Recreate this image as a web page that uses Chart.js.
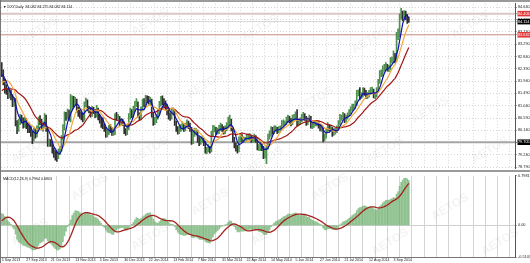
<!DOCTYPE html>
<html>
<head>
<meta charset="utf-8">
<script src="https://cdn.jsdelivr.net/npm/chart.js@4.4.0/dist/chart.umd.min.js"></script>
<style>
  html, body { margin: 0; padding: 0; background: #fff; }
  #wrap { position: relative; width: 530px; height: 263px; overflow: hidden; background: #fff; }
  #main { position: absolute; left: 0; top: 0; }
  #macd { position: absolute; left: 0; top: 172px; }
  .sep { position: absolute; background: #9a9a9a; }
</style>
</head>
<body>
<div id="wrap">
  <canvas id="main" width="530" height="172"></canvas>
  <canvas id="macd" width="530" height="91"></canvas>
  <div class="sep" style="left:0;top:0;width:530px;height:2px"></div>
  <div class="sep" style="left:0;top:170px;width:530px;height:2px"></div>
  <div class="sep" style="left:0;top:0;width:1px;height:263px;background:#777"></div>
</div>
<script>
// DXY daily, 5 Sep 2013 .. 16 Sep 2014 (one value per session)
const closes = [
  // Sep 2013
  82.25, 81.92, 81.62, 81.58, 81.40, 81.52, 81.38, 81.10, 81.22, 80.40, 80.20, 80.42, 80.60, 80.52, 80.32, 80.50, 80.32, 80.22,
  // Oct 2013
  80.20, 80.02, 79.82, 80.10, 80.00, 80.20, 80.50, 80.48, 80.22, 80.30, 80.62, 80.20, 79.62, 79.70, 79.68, 79.42, 79.30, 79.22, 79.18, 79.32, 79.42, 79.82, 80.22,
  // Nov 2013
  80.70, 80.62, 80.80, 80.60, 81.02, 81.30, 81.12, 81.22, 80.88, 80.80, 80.70, 80.68, 80.58, 81.10, 81.20, 80.92, 80.90, 80.72, 80.92, 80.82, 80.68,
  // Dec 2013
  80.90, 80.62, 80.50, 80.40, 80.30, 80.20, 80.00, 80.02, 80.20, 80.18, 80.02, 80.10, 80.62, 80.60, 80.62, 80.40, 80.50, 80.40, 80.10, 80.08, 80.22,
  // Jan 2014
  80.62, 80.82, 80.70, 80.90, 81.10, 81.12, 80.70, 80.60, 80.90, 81.20, 81.10, 81.30, 81.28, 81.20, 81.22, 80.70, 80.40, 80.50, 80.62, 80.80, 81.10, 81.30,
  // Feb 2014
  81.20, 81.10, 81.00, 80.80, 80.70, 80.60, 80.80, 80.82, 80.40, 80.20, 80.10, 80.20, 80.22, 80.30, 80.20, 80.30, 80.40, 80.30, 80.20, 79.70,
  // Mar 2014
  80.00, 80.10, 80.10, 79.80, 79.70, 79.80, 79.80, 79.70, 79.40, 79.40, 79.50, 79.40, 80.00, 80.20, 80.20, 80.10, 80.10, 80.20, 80.30, 80.20, 80.10,
  // Apr 2014
  80.20, 80.30, 80.50, 80.50, 80.20, 79.80, 79.60, 79.50, 79.40, 79.80, 79.90, 79.80, 79.80, 79.80, 79.90, 79.90, 79.90, 79.80, 79.80, 79.90, 79.80, 79.50,
  // May 2014
  79.50, 79.60, 79.50, 79.20, 79.40, 79.50, 79.90, 80.00, 80.20, 80.10, 80.20, 80.20, 80.10, 80.20, 80.20, 80.40, 80.40, 80.40, 80.50, 80.60, 80.50, 80.40,
  // Jun 2014
  80.60, 80.60, 80.70, 80.40, 80.40, 80.50, 80.60, 80.70, 80.60, 80.40, 80.50, 80.60, 80.30, 80.30, 80.40, 80.40, 80.40, 80.30, 80.20, 80.20, 79.80,
  // Jul 2014
  79.90, 80.10, 80.30, 80.20, 80.20, 80.00, 80.10, 80.10, 80.20, 80.40, 80.60, 80.60, 80.70, 80.50, 80.60, 80.70, 80.80, 80.90, 81.00, 81.00, 81.10, 81.50, 81.50,
  // Aug 2014
  81.40, 81.40, 81.60, 81.50, 81.40, 81.40, 81.50, 81.60, 81.60, 81.40, 81.40, 81.60, 81.90, 82.20, 82.20, 82.40, 82.40, 82.50, 82.40, 82.40, 82.70,
  // Sep 2014
  82.70, 82.90, 82.70, 83.60, 83.60, 84.30, 84.40, 84.30, 84.40, 84.30, 84.20, 84.11
];

const highs = [
  82.62, 82.35, 82.00, 81.80, 81.66, 81.70, 81.60, 81.45, 81.35, 81.30, 80.50, 80.55, 80.72, 80.70, 80.60, 80.62, 80.58, 80.40,
  80.40, 80.30, 80.10, 80.22, 80.20, 80.30, 80.62, 80.68, 80.55, 80.45, 80.75, 80.70, 80.25, 79.82, 79.80, 79.75, 79.50, 79.40, 79.35, 79.45, 79.55, 79.95, 80.35,
  80.82, 80.80, 80.92, 80.88, 81.45, 81.40, 81.38, 81.35, 81.28, 80.98, 80.88, 80.80, 80.75, 81.18, 81.32, 81.25, 81.02, 80.95, 81.02, 80.98, 80.90,
  81.05, 80.95, 80.70, 80.62, 80.60, 80.38, 80.25, 80.15, 80.32, 80.35, 80.25, 80.22, 80.75, 80.80, 80.72, 80.65, 80.58, 80.55, 80.45, 80.20, 80.35,
  80.75, 80.95, 80.90, 81.02, 81.20, 81.30, 81.18, 80.78, 81.00, 81.28, 81.30, 81.42, 81.40, 81.38, 81.35, 81.28, 80.80, 80.62, 80.72, 80.90, 81.20, 81.38,
  81.40, 81.30, 81.22, 81.08, 80.95, 80.78, 80.92, 80.95, 80.88, 80.48, 80.28, 80.30, 80.35, 80.45, 80.38, 80.40, 80.52, 80.48, 80.40, 80.25,
  80.10, 80.22, 80.20, 80.15, 79.90, 79.88, 79.92, 79.85, 79.75, 79.52, 79.62, 79.55, 80.10, 80.32, 80.30, 80.25, 80.22, 80.32, 80.40, 80.35, 80.28,
  80.30, 80.42, 80.62, 80.70, 80.55, 80.25, 79.88, 79.68, 79.60, 79.90, 80.02, 79.98, 79.90, 79.88, 80.00, 80.00, 80.02, 79.95, 79.90, 80.00, 79.95, 79.85,
  79.62, 79.72, 79.65, 79.55, 79.50, 79.60, 80.00, 80.12, 80.28, 80.25, 80.30, 80.30, 80.25, 80.28, 80.30, 80.50, 80.52, 80.48, 80.62, 80.70, 80.65, 80.58,
  80.70, 80.72, 80.82, 80.90, 80.52, 80.60, 80.72, 80.80, 80.75, 80.65, 80.60, 80.70, 80.65, 80.40, 80.48, 80.50, 80.48, 80.45, 80.35, 80.30, 80.25,
  80.00, 80.20, 80.42, 80.35, 80.32, 80.25, 80.20, 80.22, 80.30, 80.50, 80.72, 80.70, 80.80, 80.75, 80.70, 80.78, 80.90, 81.00, 81.10, 81.10, 81.22, 81.60, 81.62,
  81.70, 81.52, 81.70, 81.68, 81.60, 81.52, 81.60, 81.70, 81.72, 81.65, 81.52, 81.70, 82.00, 82.32, 82.35, 82.50, 82.55, 82.62, 82.55, 82.52, 82.80,
  82.82, 83.05, 82.95, 83.72, 83.85, 84.40, 84.60, 84.50, 84.52, 84.50, 84.38, 84.28
];

const lows = [
  82.10, 81.80, 81.50, 81.45, 81.30, 81.32, 81.25, 81.00, 81.02, 80.30, 80.02, 80.10, 80.35, 80.40, 80.22, 80.25, 80.20, 80.05,
  80.05, 79.92, 79.65, 79.75, 79.85, 79.90, 80.12, 80.35, 80.15, 80.10, 80.25, 80.10, 79.55, 79.55, 79.55, 79.30, 79.15, 79.05, 79.00, 79.10, 79.25, 79.38, 79.78,
  80.15, 80.50, 80.55, 80.50, 80.45, 80.90, 81.00, 81.05, 80.80, 80.65, 80.58, 80.52, 80.45, 80.50, 81.00, 80.85, 80.78, 80.62, 80.65, 80.75, 80.60,
  80.62, 80.52, 80.40, 80.25, 80.20, 80.10, 79.88, 79.90, 79.98, 80.05, 79.95, 79.95, 79.98, 80.50, 80.50, 80.32, 80.35, 80.32, 80.02, 79.95, 79.98,
  80.15, 80.55, 80.60, 80.62, 80.82, 81.00, 80.62, 80.50, 80.52, 80.85, 81.00, 81.05, 81.15, 81.10, 81.08, 80.62, 80.32, 80.35, 80.42, 80.55, 80.72, 81.02,
  81.08, 81.00, 80.90, 80.70, 80.55, 80.50, 80.55, 80.70, 80.32, 80.10, 80.00, 80.02, 80.10, 80.15, 80.10, 80.12, 80.25, 80.20, 80.10, 79.62,
  79.65, 79.92, 79.98, 79.70, 79.58, 79.62, 79.70, 79.58, 79.30, 79.28, 79.35, 79.30, 79.35, 79.92, 80.08, 79.98, 80.00, 80.02, 80.12, 80.10, 80.00,
  80.02, 80.12, 80.22, 80.35, 80.12, 79.72, 79.50, 79.38, 79.30, 79.35, 79.72, 79.70, 79.70, 79.72, 79.75, 79.80, 79.80, 79.70, 79.70, 79.72, 79.70, 79.42,
  79.40, 79.40, 79.40, 79.10, 79.12, 78.92, 79.45, 79.82, 79.92, 80.00, 80.02, 80.10, 80.02, 80.05, 80.10, 80.15, 80.30, 80.32, 80.35, 80.45, 80.40, 80.30,
  80.35, 80.50, 80.55, 80.30, 80.30, 80.35, 80.45, 80.55, 80.50, 80.32, 80.35, 80.45, 80.22, 80.20, 80.25, 80.30, 80.30, 80.22, 80.12, 80.10, 79.72,
  79.75, 79.85, 80.05, 80.12, 80.10, 79.92, 79.95, 80.00, 80.05, 80.15, 80.35, 80.50, 80.55, 80.42, 80.45, 80.55, 80.65, 80.75, 80.85, 80.90, 80.95, 81.05, 81.40,
  81.25, 81.30, 81.35, 81.42, 81.30, 81.30, 81.35, 81.45, 81.50, 81.32, 81.30, 81.35, 81.55, 81.85, 82.10, 82.12, 82.30, 82.35, 82.30, 82.28, 82.35,
  82.60, 82.62, 82.60, 82.65, 83.45, 83.55, 84.20, 84.15, 84.22, 84.18, 84.05, 84.08
];

// sessions before the window, estimated from where the averages start at the left edge
const priorCloses = [81.55, 81.45, 81.12, 81.10, 81.30, 81.65, 81.60, 81.25, 81.30, 81.32, 81.05,
  81.50, 81.60, 81.40, 81.40, 81.30, 81.62, 82.00, 82.10, 82.12, 82.25, 82.15];

const dateLabels = ['5 Sep 2013', '27 Sep 2013', '21 Oct 2013', '13 Nov 2013', '5 Dec 2013', '30 Dec 2013',
  '22 Jan 2014', '13 Feb 2014', '7 Mar 2014', '31 Mar 2014', '22 Apr 2014', '14 May 2014', '5 Jun 2014',
  '27 Jun 2014', '21 Jul 2014', '12 Aug 2014', '3 Sep 2014'];

const priceTicks = [84.64, 84.19, 83.74, 83.29, 82.84, 82.39, 81.94, 81.49, 81.04, 80.59, 80.14, 79.69, 79.24, 78.79];
const levelValues = [84.406, 83.632, 79.705];
const levelLabels = ['84.406', '83.632', '79.705'];
const bidValue = 84.114;
const macdTicks = [0.7981, 0, -0.5103];
const macdTickLabels = ['0.7981', '0.00', '-0.5103'];

// layout
const X_MIN = -0.5, X_MAX = 335.4, GRID_STEP = 8, LABEL_STEP = 16;
const FONT = '"Liberation Sans", Arial, sans-serif';

// indicator helpers (same definitions as the terminal uses)
function sma(src, n) {
    return src.map((_, i) => {
        const w = src.slice(Math.max(0, i - n + 1), i + 1);
        return w.reduce((a, b) => a + b, 0) / w.length;
    });
}
function ema(src, n) {
    const k = 2 / (n + 1), out = [];
    src.forEach((v, i) => out.push(i ? out[i - 1] + k * (v - out[i - 1]) : v));
    return out;
}

const P = priorCloses.length;
const allCloses = priorCloses.concat(closes);
const ma5 = sma(allCloses, 5).slice(P);
const ma10 = sma(allCloses, 10).slice(P);
const ma21 = sma(allCloses, 21).slice(P);
const e12 = ema(allCloses, 12), e26 = ema(allCloses, 26);
const macdAll = e12.map((v, i) => v - e26[i]);
const macdMain = macdAll.slice(P);
const macdSignal = sma(macdAll, 9).slice(P);

const gridIdx = [];
for (let v = 0; v <= X_MAX; v += GRID_STEP) gridIdx.push(v);

const toXY = arr => arr.map((y, x) => ({ x, y }));

const watermark = {
    id: 'watermark',
    beforeDatasetsDraw(chart, args, opts) {
        const c = chart.ctx;
        c.save();
        c.font = 'bold 12px ' + FONT;
        c.fillStyle = 'rgba(130,130,130,0.09)';
        c.textAlign = 'center';
        c.textBaseline = 'middle';
        (opts.spots || []).forEach(([x, y]) => {
            c.save();
            c.translate(x, y);
            c.rotate(-0.55);
            c.fillText('AETOS', 0, 0);
            c.restore();
        });
        c.restore();
    }
};

const caption = {
    id: 'caption',
    afterDraw(chart, args, opts) {
        const c = chart.ctx;
        c.save();
        c.font = opts.size + 'px ' + FONT;
        c.fillStyle = '#111';
        c.textBaseline = 'middle';
        c.fillText(opts.text, opts.x, opts.y);
        c.restore();
    }
};

// main price window
const priceTickObjs = priceTicks.map(v => ({ value: v }))
    .concat([
        { value: levelValues[0], special: '#e03a3a', text: levelLabels[0] },
        { value: bidValue, special: '#000', text: bidValue.toFixed(3) },
        { value: levelValues[1], special: '#e03a3a', text: levelLabels[1] },
        { value: levelValues[2], special: '#000', text: levelLabels[2] }
    ]);

const levelStyles = [
    { color: '#dcc6c6', width: 2 },
    { color: '#c48a84', width: 1 },
    { color: '#a4a4a4', width: 2 }
];

const candleColors = closes.map((c, i) => (i > 0 && c >= closes[i - 1]) ? '#4f8f4f' : '#303030');

const mainDatasets = [
    { type: 'line', data: toXY(ma5), borderColor: '#1010b0', borderWidth: 1.2, pointRadius: 0 },
    { type: 'line', data: toXY(ma10), borderColor: '#f2a93b', borderWidth: 1.2, pointRadius: 0 },
    { type: 'line', data: toXY(ma21), borderColor: '#a31515', borderWidth: 1.2, pointRadius: 0 },
    {
        type: 'bar',
        data: closes.map((_, i) => ({ x: i, y: [lows[i], highs[i]] })),
        backgroundColor: candleColors,
        barThickness: 1,
        borderWidth: 0
    },
    {
        type: 'line',
        data: [{ x: X_MIN, y: bidValue }, { x: X_MAX, y: bidValue }],
        borderColor: '#d6d6d6', borderWidth: 1, pointRadius: 0
    }
].concat(levelValues.map((v, k) => ({
    type: 'line',
    data: [{ x: X_MIN, y: v }, { x: X_MAX, y: v }],
    borderColor: levelStyles[k].color, borderWidth: levelStyles[k].width, pointRadius: 0
})));

new Chart(document.getElementById('main'), {
    type: 'bar',
    data: { datasets: mainDatasets },
    plugins: [watermark, caption],
    options: {
        responsive: false,
        animation: false,
        devicePixelRatio: 1,
        layout: { padding: { left: 1, top: 3, bottom: 2, right: 0 } },
        plugins: {
            legend: { display: false },
            tooltip: { enabled: false },
            watermark: { spots: [[40, 30], [150, 22], [260, 28], [370, 40], [470, 25], [95, 95], [205, 85], [315, 100], [430, 110], [30, 150], [150, 150], [265, 160], [385, 150], [490, 150]] },
            caption: { text: '\u25BC DXY,Daily  84.082 84.275 84.082 84.114', x: 3, y: 6.5, size: 3.6 }
        },
        scales: {
            x: {
                type: 'linear', min: X_MIN, max: X_MAX, offset: false,
                afterBuildTicks: s => { s.ticks = gridIdx.map(v => ({ value: v })); },
                afterFit: s => { s.height = 0; },
                ticks: { display: false },
                grid: { color: '#d4d4d4', lineWidth: 1, drawTicks: false },
                border: { display: false, dash: [1, 2] }
            },
            y: {
                position: 'right', min: 78.754, max: 84.766,
                afterBuildTicks: s => { s.ticks = priceTickObjs.map(t => Object.assign({}, t)); },
                afterFit: s => { s.width = 15; },
                ticks: {
                    autoSkip: false,
                    padding: 1.5,
                    font: { size: 3.8, family: FONT },
                    color: ctx => ctx.tick && ctx.tick.special ? '#fff' : '#222',
                    callback: function (v, i) {
                        const t = priceTickObjs[i];
                        return t && t.text ? t.text : v.toFixed(3);
                    },
                    showLabelBackdrop: ctx => !!(ctx.tick && ctx.tick.special),
                    backdropColor: ctx => ctx.tick && ctx.tick.special ? ctx.tick.special : 'transparent',
                    backdropPadding: { left: 0.5, right: 1, top: 0.5, bottom: 0.5 }
                },
                grid: {
                    color: ctx => ctx.tick && ctx.tick.special ? 'transparent' : '#d4d4d4',
                    tickColor: '#555', tickLength: 1.5, drawTicks: true
                },
                border: { display: true, color: '#555', width: 1, dash: [1, 2] }
            }
        }
    }
});

// MACD window
const macdTickObjs = macdTicks.map((v, i) => ({ value: v, text: macdTickLabels[i] }));

new Chart(document.getElementById('macd'), {
    type: 'bar',
    data: {
        datasets: [
            { type: 'line', data: toXY(macdSignal), borderColor: '#a3231f', borderWidth: 1.3, pointRadius: 0 },
            { type: 'bar', data: toXY(macdMain), backgroundColor: 'rgba(110,175,110,0.75)', barThickness: 1, borderWidth: 0 }
        ]
    },
    plugins: [watermark, caption],
    options: {
        responsive: false,
        animation: false,
        devicePixelRatio: 1,
        layout: { padding: { left: 1, top: 3, bottom: 0, right: 0 } },
        plugins: {
            legend: { display: false },
            tooltip: { enabled: false },
            watermark: { spots: [[90, 15], [210, 30], [330, 15], [450, 35], [30, 60], [150, 65], [270, 60], [390, 70], [500, 70]] },
            caption: { text: 'MACD(12,26,9) 0.7964 0.6803', x: 3, y: 6.5, size: 3.6 }
        },
        scales: {
            x: {
                type: 'linear', min: X_MIN, max: X_MAX, offset: false,
                afterBuildTicks: s => { s.ticks = gridIdx.map(v => ({ value: v })); },
                afterFit: s => { s.height = 6; },
                ticks: {
                    autoSkip: false, maxRotation: 0, align: 'start', padding: 1,
                    font: { size: 3.6, family: FONT }, color: '#222',
                    callback: v => (v % LABEL_STEP === 0 && v / LABEL_STEP < dateLabels.length) ? dateLabels[v / LABEL_STEP] : ''
                },
                grid: { color: '#d4d4d4', lineWidth: 1, drawTicks: false },
                border: { display: true, color: '#777', width: 1 }
            },
            y: {
                position: 'right', min: -0.5103, max: 0.7981,
                afterBuildTicks: s => { s.ticks = macdTickObjs.map(t => Object.assign({}, t)); },
                afterFit: s => { s.width = 15; },
                ticks: {
                    autoSkip: false, padding: 1.5,
                    font: { size: 3.8, family: FONT }, color: '#222',
                    callback: (v, i) => macdTickObjs[i].text
                },
                grid: {
                    color: ctx => ctx.tick && ctx.tick.value === 0 ? '#cfcfcf' : 'transparent',
                    tickColor: '#555', tickLength: 1.5
                },
                border: { display: true, color: '#555', width: 1 }
            }
        }
    }
});
</script>
</body>
</html>
